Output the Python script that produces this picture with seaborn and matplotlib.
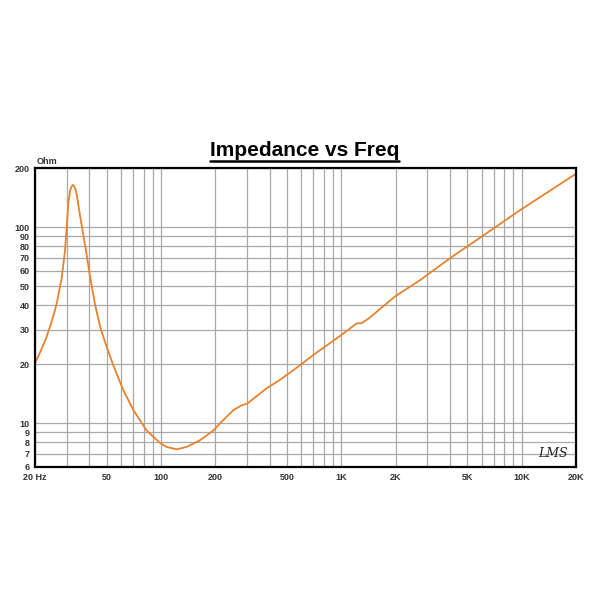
import numpy as np
import pandas as pd
import seaborn as sns
import matplotlib.pyplot as plt
from matplotlib.ticker import FixedLocator, FixedFormatter, NullFormatter
from matplotlib.lines import Line2D

# impedance curve (Hz, Ohm)
freq = [20, 21.6, 23.2, 24.6, 25.8, 26.4, 28.1, 29.3, 30.0, 30.6, 31.3, 31.8,
        32.4, 32.9, 33.5, 34.1, 35.5, 37.1, 38.7, 40.4, 43, 46.2, 50, 54.3,
        57.9, 61.7, 70.2, 83.2, 98.8, 107, 117, 122, 139, 164, 195, 212, 252,
        281, 300, 385, 458, 590, 698, 1000, 1214, 1300, 1414, 1980, 2734,
        4000, 5980, 9800, 20000]
impedance = [20.3, 23.6, 27.6, 32.5, 37.8, 40.9, 54.8, 75, 100, 132, 153, 160,
             164, 162, 156, 146, 115, 91, 72, 56, 40.5, 30.5, 24.5, 19.8,
             17.1, 14.8, 11.7, 9.2, 7.95, 7.6, 7.45, 7.38, 7.6, 8.2, 9.2, 10, 11.7,
             12.4, 12.6, 15.1, 16.7, 19.8, 22.3, 28.2, 32.3, 32.5, 34.2, 44.3, 53.7,
             69.4, 89.3, 122, 187]

x_ticks = [20, 50, 100, 200, 500, 1000, 2000, 5000, 10000, 20000]
x_labels = ['20 Hz', '50', '100', '200', '500', '1K', '2K', '5K', '10K', '20K']
y_ticks = [6, 7, 8, 9, 10, 20, 30, 40, 50, 60, 70, 80, 90, 100, 200]
y_labels = [str(v) for v in y_ticks]

x_minor = [m * 10 ** e for e in range(1, 5) for m in range(1, 10)]
x_minor = [v for v in x_minor if 20 < v < 20000 and v not in x_ticks]

sns.set_style('white')
plt.rcParams['font.family'] = ['Liberation Sans', 'DejaVu Sans']

fig = plt.figure(figsize=(6, 6), dpi=100)
ax = fig.add_axes([35 / 600, 1 - 467 / 600, 541 / 600, 299 / 600])

df = pd.DataFrame({'Frequency': freq, 'Impedance': impedance})
sns.lineplot(data=df, x='Frequency', y='Impedance', ax=ax, color='#E8822E',
             lw=1.3, sort=False, estimator=None)

ax.set_xscale('log')
ax.set_yscale('log')
ax.set_xlim(20, 20000)
ax.set_ylim(6, 200)
ax.set_xlabel('')
ax.set_ylabel('')

ax.xaxis.set_major_locator(FixedLocator(x_ticks))
ax.xaxis.set_major_formatter(FixedFormatter(x_labels))
ax.xaxis.set_minor_locator(FixedLocator(x_minor))
ax.xaxis.set_minor_formatter(NullFormatter())
ax.yaxis.set_major_locator(FixedLocator(y_ticks))
ax.yaxis.set_major_formatter(FixedFormatter(y_labels))
ax.yaxis.set_minor_locator(FixedLocator([]))

ax.grid(True, which='both', color='#a8a8a8', lw=0.9)
ax.tick_params(axis='both', which='both', labelsize=6.5, labelcolor='#333333')
ax.tick_params(axis='x', which='both', length=0, pad=4)
ax.tick_params(axis='y', which='major', length=3, color='#888888', pad=1)
for lbl in ax.get_xticklabels() + ax.get_yticklabels():
    lbl.set_fontweight('bold')

for s in ax.spines.values():
    s.set_color('black')
    s.set_linewidth(1.6)

fig.text(37 / 600, 1 - 161 / 600, 'Ohm', fontsize=6.5, weight='bold',
         color='#333333', ha='left', va='center')
ax.text(0.985, 0.025, 'LMS', transform=ax.transAxes, ha='right', va='bottom',
        fontsize=9, style='italic', family='DejaVu Serif', color='#222222')

title = fig.text(0.508, 1 - 150 / 600, 'Impedance vs Freq', ha='center',
                 va='center', fontsize=15, weight='bold', color='black')
fig.canvas.draw()
bb = title.get_window_extent(fig.canvas.get_renderer())
inv = fig.transFigure.inverted()
(x0, y0), (x1, _) = inv.transform([(bb.x0, bb.y0 - 1), (bb.x1, bb.y0 - 1)])
fig.add_artist(Line2D([x0, x1], [y0, y0], transform=fig.transFigure,
                      color='black', lw=1.8))

fig.savefig('out.png', dpi=100, facecolor='white')
